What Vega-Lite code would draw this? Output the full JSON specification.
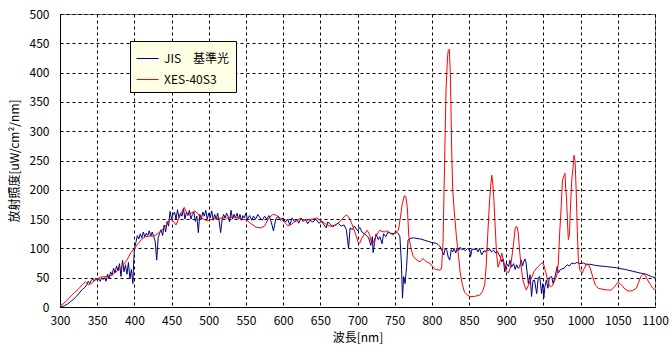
{
"$schema":"https://vega.github.io/schema/vega-lite/v6.json",
"width":595,"height":293,
"autosize":{"type":"none"},
"padding":{"left":60,"top":14,"right":17,"bottom":51},
"background":"white",
"config":{"view":{"stroke":"#808080","strokeWidth":1},"font":"Noto Sans CJK JP"},
"datasets":{
"jis":[{"nm":300,"v":0},{"nm":303,"v":1},{"nm":306,"v":2},{"nm":310,"v":5},{"nm":314,"v":9},{"nm":318,"v":13},{"nm":322,"v":18},{"nm":326,"v":24},{"nm":330,"v":30},{"nm":333,"v":33},{"nm":336,"v":38},{"nm":338,"v":44},{"nm":340,"v":40},{"nm":342,"v":45},{"nm":344,"v":48},{"nm":346,"v":44},{"nm":348,"v":49},{"nm":350,"v":46},{"nm":352,"v":48},{"nm":354,"v":44},{"nm":356,"v":50},{"nm":358,"v":47},{"nm":360,"v":50},{"nm":362,"v":44},{"nm":364,"v":56},{"nm":366,"v":48},{"nm":368,"v":60},{"nm":370,"v":55},{"nm":372,"v":66},{"nm":374,"v":58},{"nm":376,"v":70},{"nm":378,"v":62},{"nm":380,"v":74},{"nm":382,"v":52},{"nm":384,"v":80},{"nm":386,"v":60},{"nm":388,"v":72},{"nm":390,"v":56},{"nm":392,"v":76},{"nm":394,"v":48},{"nm":396,"v":64},{"nm":398,"v":40},{"nm":399,"v":75},{"nm":400,"v":98},{"nm":402,"v":110},{"nm":404,"v":122},{"nm":406,"v":116},{"nm":408,"v":125},{"nm":410,"v":118},{"nm":412,"v":128},{"nm":414,"v":120},{"nm":416,"v":126},{"nm":418,"v":122},{"nm":420,"v":130},{"nm":422,"v":121},{"nm":424,"v":128},{"nm":426,"v":120},{"nm":428,"v":112},{"nm":430,"v":80},{"nm":432,"v":118},{"nm":434,"v":126},{"nm":436,"v":132},{"nm":438,"v":122},{"nm":440,"v":140},{"nm":442,"v":128},{"nm":444,"v":146},{"nm":446,"v":138},{"nm":448,"v":163},{"nm":450,"v":150},{"nm":452,"v":158},{"nm":454,"v":162},{"nm":456,"v":150},{"nm":458,"v":166},{"nm":460,"v":152},{"nm":462,"v":160},{"nm":464,"v":155},{"nm":466,"v":168},{"nm":468,"v":150},{"nm":470,"v":162},{"nm":472,"v":156},{"nm":474,"v":165},{"nm":476,"v":150},{"nm":478,"v":158},{"nm":480,"v":162},{"nm":482,"v":146},{"nm":484,"v":155},{"nm":486,"v":127},{"nm":488,"v":158},{"nm":490,"v":150},{"nm":492,"v":162},{"nm":494,"v":155},{"nm":496,"v":165},{"nm":498,"v":150},{"nm":500,"v":160},{"nm":502,"v":152},{"nm":504,"v":164},{"nm":506,"v":148},{"nm":508,"v":158},{"nm":510,"v":150},{"nm":512,"v":160},{"nm":514,"v":146},{"nm":516,"v":127},{"nm":518,"v":150},{"nm":520,"v":158},{"nm":522,"v":152},{"nm":524,"v":160},{"nm":526,"v":155},{"nm":528,"v":145},{"nm":530,"v":165},{"nm":532,"v":150},{"nm":534,"v":158},{"nm":536,"v":152},{"nm":538,"v":160},{"nm":540,"v":150},{"nm":542,"v":158},{"nm":544,"v":148},{"nm":546,"v":156},{"nm":548,"v":152},{"nm":550,"v":160},{"nm":552,"v":150},{"nm":555,"v":156},{"nm":558,"v":148},{"nm":560,"v":155},{"nm":563,"v":150},{"nm":566,"v":158},{"nm":569,"v":152},{"nm":572,"v":148},{"nm":575,"v":155},{"nm":578,"v":150},{"nm":581,"v":156},{"nm":584,"v":145},{"nm":587,"v":130},{"nm":590,"v":150},{"nm":593,"v":155},{"nm":596,"v":148},{"nm":600,"v":152},{"nm":603,"v":145},{"nm":606,"v":150},{"nm":609,"v":140},{"nm":612,"v":152},{"nm":615,"v":146},{"nm":618,"v":150},{"nm":621,"v":143},{"nm":624,"v":152},{"nm":627,"v":146},{"nm":630,"v":150},{"nm":633,"v":142},{"nm":636,"v":148},{"nm":640,"v":145},{"nm":644,"v":150},{"nm":648,"v":143},{"nm":652,"v":146},{"nm":655,"v":140},{"nm":658,"v":135},{"nm":660,"v":145},{"nm":663,"v":142},{"nm":666,"v":138},{"nm":670,"v":140},{"nm":674,"v":143},{"nm":678,"v":138},{"nm":682,"v":140},{"nm":685,"v":132},{"nm":688,"v":100},{"nm":690,"v":135},{"nm":693,"v":132},{"nm":696,"v":138},{"nm":700,"v":130},{"nm":703,"v":136},{"nm":706,"v":128},{"nm":709,"v":125},{"nm":712,"v":122},{"nm":715,"v":118},{"nm":718,"v":105},{"nm":720,"v":120},{"nm":721,"v":93},{"nm":723,"v":110},{"nm":725,"v":125},{"nm":728,"v":115},{"nm":730,"v":120},{"nm":733,"v":108},{"nm":735,"v":125},{"nm":738,"v":120},{"nm":741,"v":128},{"nm":744,"v":126},{"nm":748,"v":125},{"nm":752,"v":128},{"nm":755,"v":125},{"nm":757,"v":120},{"nm":759,"v":75},{"nm":760.5,"v":15},{"nm":762,"v":52},{"nm":764,"v":40},{"nm":766,"v":69},{"nm":768,"v":114},{"nm":770,"v":117},{"nm":775,"v":118},{"nm":780,"v":117},{"nm":785,"v":116},{"nm":790,"v":114},{"nm":795,"v":112},{"nm":800,"v":110},{"nm":805,"v":109},{"nm":808,"v":107},{"nm":811,"v":103},{"nm":814,"v":95},{"nm":816,"v":89},{"nm":818,"v":100},{"nm":820,"v":97},{"nm":822,"v":85},{"nm":824,"v":80},{"nm":826,"v":98},{"nm":828,"v":94},{"nm":830,"v":100},{"nm":832,"v":92},{"nm":834,"v":100},{"nm":836,"v":96},{"nm":838,"v":102},{"nm":840,"v":98},{"nm":842,"v":99},{"nm":845,"v":96},{"nm":848,"v":100},{"nm":851,"v":97},{"nm":852,"v":86},{"nm":854,"v":99},{"nm":857,"v":98},{"nm":860,"v":99},{"nm":862,"v":94},{"nm":864,"v":100},{"nm":867,"v":89},{"nm":870,"v":96},{"nm":872,"v":94},{"nm":874,"v":98},{"nm":876,"v":96},{"nm":878,"v":99},{"nm":880,"v":94},{"nm":883,"v":97},{"nm":886,"v":92},{"nm":888,"v":95},{"nm":890,"v":90},{"nm":892,"v":85},{"nm":894,"v":77},{"nm":896,"v":82},{"nm":898,"v":60},{"nm":900,"v":75},{"nm":903,"v":69},{"nm":905,"v":80},{"nm":907,"v":68},{"nm":910,"v":74},{"nm":912,"v":64},{"nm":914,"v":72},{"nm":916,"v":66},{"nm":918,"v":68},{"nm":920,"v":80},{"nm":922,"v":70},{"nm":923,"v":75},{"nm":925,"v":82},{"nm":926.5,"v":77},{"nm":928,"v":60},{"nm":929.7,"v":40},{"nm":932,"v":55},{"nm":934,"v":18},{"nm":936,"v":45},{"nm":938,"v":46},{"nm":940,"v":30},{"nm":941,"v":23},{"nm":943,"v":50},{"nm":945,"v":52},{"nm":947.5,"v":23},{"nm":949,"v":40},{"nm":950.5,"v":15},{"nm":952,"v":35},{"nm":954,"v":46},{"nm":956,"v":32},{"nm":958,"v":50},{"nm":961,"v":52},{"nm":963,"v":40},{"nm":965,"v":49},{"nm":967,"v":60},{"nm":968.5,"v":69},{"nm":970,"v":58},{"nm":972,"v":63},{"nm":975,"v":65},{"nm":978,"v":66},{"nm":980,"v":70},{"nm":982,"v":72},{"nm":985,"v":70},{"nm":988,"v":75},{"nm":992,"v":74},{"nm":995,"v":76},{"nm":999,"v":74},{"nm":1004,"v":75},{"nm":1008,"v":72},{"nm":1012,"v":73},{"nm":1020,"v":71},{"nm":1026,"v":70},{"nm":1035,"v":69},{"nm":1048,"v":67},{"nm":1060,"v":64},{"nm":1070,"v":61},{"nm":1080,"v":58},{"nm":1088,"v":56},{"nm":1095,"v":52},{"nm":1100,"v":50}],
"xes":[{"nm":300,"v":2},{"nm":305,"v":6},{"nm":310,"v":12},{"nm":315,"v":19},{"nm":320,"v":25},{"nm":325,"v":31},{"nm":330,"v":38},{"nm":334,"v":43},{"nm":338,"v":38},{"nm":342,"v":40},{"nm":346,"v":45},{"nm":350,"v":48},{"nm":355,"v":51},{"nm":360,"v":52},{"nm":365,"v":52},{"nm":370,"v":54},{"nm":375,"v":60},{"nm":380,"v":64},{"nm":385,"v":72},{"nm":390,"v":80},{"nm":395,"v":92},{"nm":400,"v":100},{"nm":405,"v":108},{"nm":410,"v":116},{"nm":415,"v":120},{"nm":420,"v":121},{"nm":425,"v":121},{"nm":428,"v":122},{"nm":432,"v":126},{"nm":436,"v":130},{"nm":440,"v":135},{"nm":444,"v":142},{"nm":448,"v":150},{"nm":452,"v":147},{"nm":456,"v":140},{"nm":460,"v":152},{"nm":463,"v":160},{"nm":467,"v":170},{"nm":470,"v":162},{"nm":472,"v":157},{"nm":476,"v":160},{"nm":481,"v":164},{"nm":485,"v":160},{"nm":488,"v":154},{"nm":493,"v":150},{"nm":498,"v":147},{"nm":505,"v":150},{"nm":511,"v":151},{"nm":518,"v":152},{"nm":524,"v":152},{"nm":530,"v":153},{"nm":537,"v":152},{"nm":544,"v":151},{"nm":551,"v":148},{"nm":557,"v":142},{"nm":564,"v":136},{"nm":570,"v":135},{"nm":575,"v":138},{"nm":580,"v":150},{"nm":586,"v":158},{"nm":590,"v":157},{"nm":596,"v":152},{"nm":601,"v":146},{"nm":606,"v":139},{"nm":610,"v":140},{"nm":614,"v":144},{"nm":622,"v":150},{"nm":630,"v":148},{"nm":640,"v":150},{"nm":645,"v":152},{"nm":650,"v":148},{"nm":655,"v":144},{"nm":660,"v":139},{"nm":667,"v":137},{"nm":672,"v":141},{"nm":678,"v":148},{"nm":682,"v":154},{"nm":685,"v":157},{"nm":688,"v":154},{"nm":690,"v":149},{"nm":693,"v":140},{"nm":697,"v":126},{"nm":701,"v":110},{"nm":703,"v":109},{"nm":706,"v":118},{"nm":710,"v":126},{"nm":713,"v":131},{"nm":716,"v":124},{"nm":719,"v":110},{"nm":721,"v":109},{"nm":725,"v":122},{"nm":730,"v":131},{"nm":733,"v":129},{"nm":736,"v":128},{"nm":739,"v":130},{"nm":742,"v":128},{"nm":745,"v":125},{"nm":748,"v":123},{"nm":752,"v":128},{"nm":755,"v":131},{"nm":758,"v":155},{"nm":760,"v":175},{"nm":763,"v":190},{"nm":765,"v":188},{"nm":767,"v":170},{"nm":769,"v":120},{"nm":772,"v":100},{"nm":775,"v":86},{"nm":780,"v":80},{"nm":784,"v":77},{"nm":788,"v":83},{"nm":790,"v":80},{"nm":794,"v":76},{"nm":797,"v":75},{"nm":801,"v":69},{"nm":805,"v":64},{"nm":810,"v":63},{"nm":813,"v":65},{"nm":815,"v":110},{"nm":817,"v":240},{"nm":819,"v":370},{"nm":821,"v":425},{"nm":822,"v":438},{"nm":823.5,"v":440},{"nm":825,"v":390},{"nm":826.6,"v":270},{"nm":828,"v":200},{"nm":830,"v":165},{"nm":833,"v":120},{"nm":836,"v":85},{"nm":838,"v":60},{"nm":841,"v":38},{"nm":844,"v":25},{"nm":848,"v":20},{"nm":851,"v":18},{"nm":857,"v":18},{"nm":864,"v":20},{"nm":868,"v":26},{"nm":871,"v":38},{"nm":873,"v":70},{"nm":875,"v":120},{"nm":877,"v":170},{"nm":879,"v":205},{"nm":880.5,"v":225},{"nm":882,"v":210},{"nm":883.5,"v":180},{"nm":885,"v":140},{"nm":887,"v":90},{"nm":889,"v":68},{"nm":891,"v":75},{"nm":894,"v":92},{"nm":896,"v":80},{"nm":898,"v":69},{"nm":900,"v":62},{"nm":903,"v":58},{"nm":905,"v":65},{"nm":907,"v":80},{"nm":910,"v":110},{"nm":912,"v":135},{"nm":914,"v":138},{"nm":916,"v":128},{"nm":918,"v":95},{"nm":920,"v":70},{"nm":922,"v":48},{"nm":925,"v":35},{"nm":927,"v":29},{"nm":931,"v":41},{"nm":934,"v":50},{"nm":938,"v":62},{"nm":943,"v":69},{"nm":946,"v":73},{"nm":949,"v":76},{"nm":951,"v":70},{"nm":953,"v":60},{"nm":956,"v":45},{"nm":958,"v":36},{"nm":961,"v":35},{"nm":963,"v":38},{"nm":965,"v":45},{"nm":968,"v":53},{"nm":970,"v":75},{"nm":972,"v":130},{"nm":974,"v":175},{"nm":975.5,"v":215},{"nm":977,"v":222},{"nm":979,"v":228},{"nm":980,"v":200},{"nm":981,"v":188},{"nm":982.5,"v":140},{"nm":983.5,"v":115},{"nm":985,"v":125},{"nm":986,"v":160},{"nm":988,"v":215},{"nm":990,"v":240},{"nm":991,"v":259},{"nm":992.5,"v":250},{"nm":994,"v":200},{"nm":995.5,"v":130},{"nm":997,"v":80},{"nm":999,"v":63},{"nm":1002,"v":58},{"nm":1005,"v":66},{"nm":1008,"v":74},{"nm":1011,"v":72},{"nm":1014,"v":62},{"nm":1017,"v":48},{"nm":1020,"v":37},{"nm":1024,"v":32},{"nm":1030,"v":30},{"nm":1036,"v":29},{"nm":1041,"v":29},{"nm":1046,"v":35},{"nm":1050,"v":42},{"nm":1053,"v":40},{"nm":1056,"v":36},{"nm":1060,"v":30},{"nm":1065,"v":27},{"nm":1070,"v":28},{"nm":1075,"v":32},{"nm":1078,"v":42},{"nm":1081,"v":52},{"nm":1084,"v":56},{"nm":1087,"v":54},{"nm":1090,"v":46},{"nm":1094,"v":38},{"nm":1097,"v":32},{"nm":1100,"v":29}]
},
"layer":[
{"data":{"name":"jis"},
 "mark":{"type":"line","strokeWidth":1},
 "encoding":{"color":{"datum":"JIS　基準光"}}},
{"data":{"name":"xes"},
 "mark":{"type":"line","strokeWidth":1},
 "encoding":{"color":{"datum":"XES-40S3"}}}
],
"encoding":{
 "x":{"field":"nm","type":"quantitative","scale":{"domain":[300,1100],"nice":false,"zero":false},
  "axis":{"title":"波長[nm]","format":"d","values":[300,350,400,450,500,550,600,650,700,750,800,850,900,950,1000,1050,1100],"grid":true,"gridColor":"black","gridDash":[3,3],"gridOpacity":1,"gridWidth":1,"ticks":false,"domainColor":"black","domainWidth":1,"labelFontSize":12,"labelColor":"black","labelPadding":8,"labelFlush":false,"titleFontSize":12,"titleFontWeight":"normal","titleColor":"black","titlePadding":6}},
 "y":{"field":"v","type":"quantitative","scale":{"domain":[0,500],"nice":false},
  "axis":{"title":"放射照度[uW/cm²/nm]","format":"d","values":[0,50,100,150,200,250,300,350,400,450,500],"grid":true,"gridColor":"black","gridDash":[3,3],"gridOpacity":1,"gridWidth":1,"ticks":false,"domainColor":"black","domainWidth":1,"labelFontSize":12,"labelColor":"black","labelPadding":11,"labelFlush":false,"titleFontSize":12,"titleFontWeight":"normal","titleColor":"black","titlePadding":8}},
 "color":{"type":"nominal","scale":{"domain":["JIS　基準光","XES-40S3"],"range":["#000080","#ff0000"]},
  "legend":{"title":null,"orient":"none","legendX":70,"legendY":27,"fillColor":"#ffffe6","strokeColor":"black","padding":6,"symbolType":"stroke","symbolSize":484,"symbolStrokeWidth":1,"labelFontSize":12,"labelColor":"black","rowPadding":3,"labelOffset":5}}
}
}
